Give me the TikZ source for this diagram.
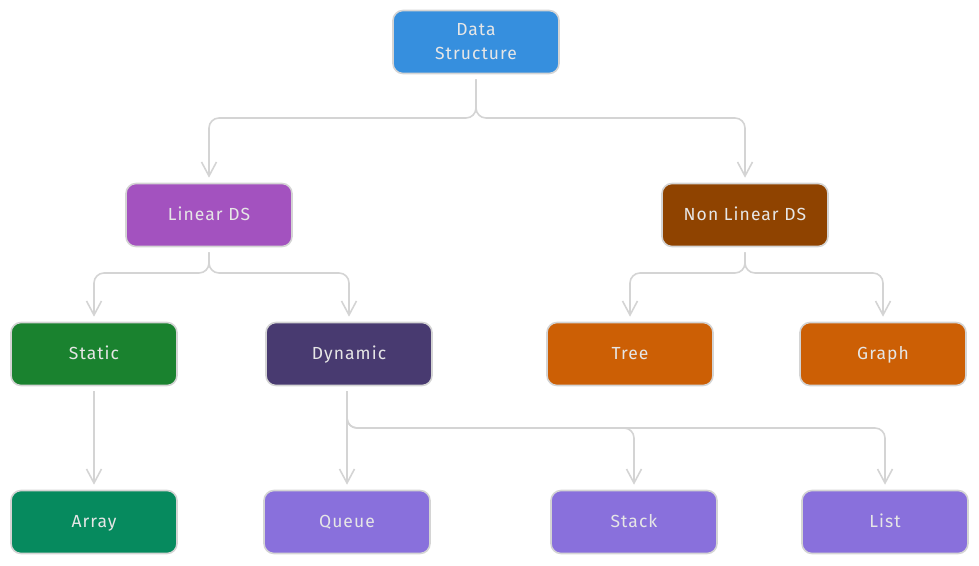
\documentclass[tikz,border=0pt]{standalone}
\usepackage{fontspec}
\setmainfont{Fira Sans}[LetterSpace=6]
\usetikzlibrary{arrows.meta,calc}
\definecolor{edgegray}{HTML}{D4D4D4}
\definecolor{txtgray}{HTML}{E6E6E6}
\definecolor{cblue}{HTML}{368FDE}
\definecolor{clinear}{HTML}{A352BF}
\definecolor{cnonlin}{HTML}{8F4300}
\definecolor{cstatic}{HTML}{1A822F}
\definecolor{cdyn}{HTML}{483A70}
\definecolor{corange}{HTML}{CC5F05}
\definecolor{carray}{HTML}{068A5E}
\definecolor{cviolet}{HTML}{8970DC}
\tikzset{
  box/.style={draw=edgegray, line width=1.6pt, rounded corners=10pt,
    minimum width=166pt, minimum height=63pt, text=txtgray,
    font=\fontsize{17.5}{24}\selectfont, align=center, inner sep=2pt},
  onel/.style={text height=2.5ex, text depth=0.3ex},
  conn/.style={draw=edgegray, line width=1.6pt, rounded corners=10pt,
    -{Straight Barb[length=14pt,width=15pt,line width=1.6pt]},
    shorten <=5pt, shorten >=5pt},
}
\begin{document}
\begin{tikzpicture}[x=1pt,y=-1pt]
\useasboundingbox (0,0) rectangle (979,565);
\node[box, fill=cblue] (ds) at (476,42) {Data\\Structure};
\node[box, onel, fill=clinear] (lin) at (209,215) {Linear DS};
\node[box, onel, fill=cnonlin] (nlin) at (745,215) {Non Linear DS};
\node[box, onel, fill=cstatic] (stat) at (94,354) {Static};
\node[box, onel, fill=cdyn] (dyn) at (349,354) {Dynamic};
\node[box, onel, fill=corange] (tree) at (630,354) {Tree};
\node[box, onel, fill=corange] (graph) at (883,354) {Graph};
\node[box, onel, fill=carray] (arr) at (94,522) {Array};
\node[box, onel, fill=cviolet] (queue) at (347,522) {Queue};
\node[box, onel, fill=cviolet] (stack) at (634,522) {Stack};
\node[box, onel, fill=cviolet] (list) at (885,522) {List};
\coordinate (j1) at (476,118);
\coordinate (j2) at (209,273);
\coordinate (j3) at (745,273);
\coordinate (j4) at (348,428);
\draw[conn] (ds.south) -- (ds.south |- j1) -| (lin.north);
\draw[conn] (ds.south) -- (ds.south |- j1) -| (nlin.north);
\draw[conn] (lin.south) -- (lin.south |- j2) -| (stat.north);
\draw[conn] (lin.south) -- (lin.south |- j2) -| (dyn.north);
\draw[conn] (nlin.south) -- (nlin.south |- j3) -| (tree.north);
\draw[conn] (nlin.south) -- (nlin.south |- j3) -| (graph.north);
\draw[conn] (stat.south) -- (arr.north);
\draw[conn] (dyn.south -| queue.north) -- (queue.north);
\draw[conn] (dyn.south -| queue.north) -- (queue.north |- j4) -| (stack.north);
\draw[conn] (dyn.south -| queue.north) -- (queue.north |- j4) -| (list.north);
\end{tikzpicture}
\end{document}
